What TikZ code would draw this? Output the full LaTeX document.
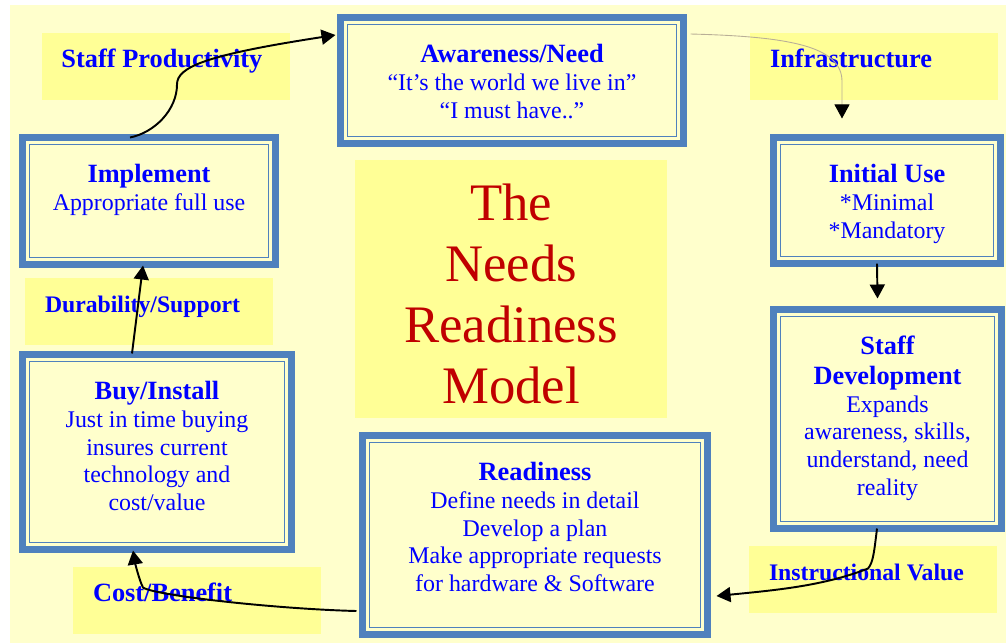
\documentclass[tikz,border=0pt]{standalone}
\usepackage{fontspec}
\setmainfont{Liberation Serif}
\usetikzlibrary{arrows.meta, calc}
\definecolor{myblue}{RGB}{0,0,255}
\definecolor{frameblue}{RGB}{79,129,189}
\definecolor{mybg}{RGB}{255,255,204}
\definecolor{myyellow}{RGB}{255,255,150}
\definecolor{myred}{RGB}{192,0,0}
\definecolor{mygray}{RGB}{185,175,150}
\newcommand{\stagehead}[1]{{\fontsize{15}{15.8}\selectfont\bfseries #1}}

\tikzset{
    stage/.style={draw=frameblue, line width=4pt, fill=mybg, inner sep=0pt,
        path picture={\draw[frameblue, line width=1pt]
            ([shift={(4pt,4pt)}]path picture bounding box.south west) rectangle
            ([shift={(-4pt,-4pt)}]path picture bounding box.north east);}},
    stagetext/.style={anchor=north, inner sep=0pt, align=center, text=myblue,
        font=\fontsize{13.6}{15.8}\selectfont},
    tag/.style={fill=myyellow, minimum width=4.96cm, minimum height=1.34cm,
        inner xsep=0.4cm, text width=4.16cm, align=flush left, text height=10.5pt,
        text depth=9pt, text=myblue, font=\fontsize{15}{18}\selectfont\bfseries},
    flow/.style={-{Triangle[length=0.28cm, width=0.3cm]}, line width=1.1pt},
}

\begin{document}
\begin{tikzpicture}
    \useasboundingbox (0, 0) rectangle (20.12, -12.86);
    \fill[mybg] (0.2, -0.1) rectangle (20.12, -12.86);
    % Labels on the arrows
    \node[tag] (prod) at (3.31, -1.33) {Staff Productivity};
    \node[tag] (infra) at (17.48, -1.33) {Infrastructure};
    \node[tag, font=\fontsize{13.5}{16}\selectfont\bfseries] (dura) at (2.98, -6.23) {Durability/Support};
    \node[tag, font=\fontsize{13.5}{16}\selectfont\bfseries] (instr) at (17.46, -11.58) {Instructional Value};
    \node[tag] (cost) at (3.94, -12.01) {Cost/Benefit};
    % Title in the middle
    \node[fill=myyellow, minimum width=6.24cm, minimum height=5.16cm] (title-box) at (10.22, -5.78) {};
    \node[align=center, inner sep=0pt, text=myred, font=\fontsize{30}{34.7}\selectfont]
        (title) at ($(title-box.center) + (0, -0.1)$) {The\\Needs\\Readiness\\Model};
    % Stage boxes
    \node[stage, minimum width=6.86cm, minimum height=2.52cm] (aware) at (10.24, -1.61) {};
    \node[stage, minimum width=4.54cm, minimum height=2.52cm] (initial) at (17.74, -4.01) {};
    \node[stage, minimum width=4.56cm, minimum height=4.38cm] (staffdev) at (17.75, -8.38) {};
    \node[stage, minimum width=6.90cm, minimum height=3.98cm] (ready) at (10.70, -10.70) {};
    \node[stage, minimum width=5.38cm, minimum height=3.90cm] (buy) at (3.14, -9.04) {};
    \node[stage, minimum width=5.06cm, minimum height=2.54cm] (implement) at (2.98, -4.02) {};
    % Stage texts
    \node[stagetext] (aware-txt) at ($(aware.north) + (0, -0.6)$)
        {\stagehead{Awareness/Need}\\“It’s the world we live in”\\“I must have..”};
    \node[stagetext] (initial-txt) at ($(initial.north) + (0, -0.6)$)
        {\stagehead{Initial Use}\\*Minimal\\*Mandatory};
    \node[stagetext] (staffdev-txt) at ($(staffdev.north) + (0, -0.6)$)
        {\stagehead{Staff}\\[1pt]\stagehead{Development}\\Expands\\awareness, skills,\\understand, need\\reality};
    \node[stagetext] (ready-txt) at ($(ready.north) + (0, -0.6)$)
        {\stagehead{Readiness}\\Define needs in detail\\Develop a plan\\Make appropriate requests\\for hardware \& Software};
    \node[stagetext] (buy-txt) at ($(buy.north) + (0, -0.6)$)
        {\stagehead{Buy/Install}\\Just in time buying\\insures current\\technology and\\cost/value};
    \node[stagetext] (implement-txt) at ($(implement.north) + (0, -0.6)$)
        {\stagehead{Implement}\\Appropriate full use};
    % Arrows round the cycle
    \draw[flow] ($(implement.north) + (-0.38, -0.07)$)
        .. controls +(0.5, 0.1) and +(0, -0.5) .. ++(0.94, 1.06)
        .. controls +(0, 0.35) and +(-2.6, -0.4) .. ($(aware.west) + (-0.03, 0.91)$);
    \draw[-{Triangle[length=0.28cm, width=0.3cm, color=black]}, mygray, line width=0.5pt]
        ($(aware.east) + (0.07, 0.93)$)
        .. controls +(2.0, -0.05) and +(0, 0.7) .. ($(initial.north) + (-0.9, 1.05)$)
        -- ($(initial.north) + (-0.9, 0.31)$);
    \draw[flow] ($(initial.south) + (-0.2, 0.07)$) -- ($(staffdev.north) + (-0.2, 0.15)$);
    \draw[flow] ($(staffdev.south) + (-0.21, 0.07)$)
        .. controls +(-0.06, -0.5) and +(0.1, 0.12) .. ($(staffdev.south) + (-0.39, -0.73)$)
        .. controls +(-0.9, -0.35) and +(1.2, 0.12) .. ($(ready.east) + (0.11, -1.22)$);
    \draw[flow] ($(ready.west) + (-0.05, -1.52)$)
        .. controls +(-1.6, 0.04) and +(0.24, -0.16) .. ($(buy.south) + (-0.28, -0.69)$)
        .. controls +(-0.08, 0.16) and +(0.04, -0.24) .. ($(buy.south) + (-0.48, 0.05)$);
    \draw[flow] ($(buy.north) + (-0.5, -0.05)$) -- ($(implement.south) + (-0.12, 0.05)$);
\end{tikzpicture}
\end{document}
